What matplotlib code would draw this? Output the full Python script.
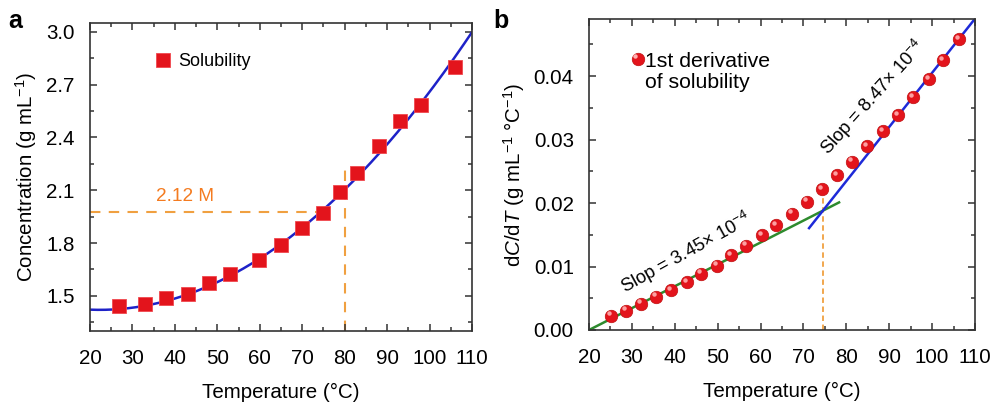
import numpy as np
import matplotlib
matplotlib.use("Agg")
import matplotlib.pyplot as plt
from matplotlib.ticker import MultipleLocator, FormatStrFormatter
import matplotlib.transforms as mtransforms

plt.rcParams['font.family'] = ['Liberation Sans', 'DejaVu Sans']
plt.rcParams['mathtext.fontset'] = 'custom'
plt.rcParams['mathtext.rm'] = 'Liberation Sans'
plt.rcParams['mathtext.it'] = 'Liberation Sans:italic'
plt.rcParams['mathtext.bf'] = 'Liberation Sans:bold'

# ---- Panel a data ----
sol_T = [26.8, 33.0, 37.8, 43.0, 48.0, 53.0, 59.9, 65.0, 70.0, 74.9, 78.9, 82.9, 88.0, 93.0, 97.9, 105.9]
sol_C = [1.443, 1.456, 1.485, 1.513, 1.570, 1.622, 1.703, 1.789, 1.884, 1.973, 2.087, 2.197, 2.354, 2.491, 2.582, 2.799]
# points
fit_T = [20, 30, 40, 50, 60, 70, 80, 90, 100, 110]
fit_C = [1.415, 1.435, 1.49, 1.585, 1.71, 1.88, 2.10, 2.36, 2.66, 3.00]
guide_C = 1.975
guide_T = 80
guide_T_end = 73.5
guide_C_top = 2.216
label_212 = "2.12 M"

# ---- Panel b data ----
der_T = [25.1, 28.6, 32.2, 35.7, 39.2, 42.9, 46.2, 49.8, 53.2, 56.7, 60.4, 63.7,
         67.4, 70.9, 74.4, 77.9, 81.4, 84.9, 88.6, 92.0, 95.6, 99.3, 102.6, 106.3]
der_V = [0.00221, 0.00305, 0.0041, 0.00526, 0.0063, 0.00753, 0.00884, 0.01016,
         0.01174, 0.01326, 0.01495, 0.01647, 0.01832, 0.02021, 0.02221, 0.02437,
         0.02647, 0.02895, 0.03132, 0.03384, 0.03668, 0.03947, 0.04253, 0.04579]
green_T = [20, 78.3]
green_V = [0.0, 0.0201]
blue_T = [71.3, 110]
blue_V = [0.01605, 0.04905]
cross_T = 74.5
cross_V_top = 0.0215

fig = plt.figure(figsize=(9.93, 4.05), dpi=100)
axa = fig.add_axes([0.0906, 0.1827, 0.3847, 0.7605])
axb = fig.add_axes([0.5932, 0.1852, 0.3887, 0.7680])

FS = 14.8
spine_c = '#333333'

def style(ax):
    for s in ax.spines.values():
        s.set_color(spine_c)
        s.set_linewidth(1.2)
    ax.tick_params(which='both', direction='in', top=True, right=True,
                   color=spine_c, labelsize=FS, width=1.1)
    ax.tick_params(which='major', length=5)
    ax.tick_params(which='minor', length=3)
    ax.tick_params(axis='x', which='both', pad=13)
    ax.tick_params(axis='y', which='both', pad=11)

# ---- Panel a ----
coef = np.polyfit(fit_T, fit_C, 2)
xs = np.linspace(20, 110, 300)
axa.plot(xs, np.polyval(coef, xs), color='#1E22C8', lw=1.8, zorder=2)
axa.plot([20, guide_T_end], [guide_C, guide_C], ls=(0, (5, 4)), color='#F0A040', lw=1.5, zorder=1)
axa.plot([guide_T, guide_T], [1.3, guide_C_top], ls=(0, (5, 4)), color='#F0A040', lw=1.5, zorder=1)
axa.plot(sol_T, sol_C, 's', ms=9.5, color='#E3141C', mec='#F0484E', mew=0.6, zorder=3,
         label='Solubility')
axa.text(42.5, 2.064, label_212, color='#F47B20', fontsize=13.7, ha='center', va='center')
axa.set_xlim(20, 110)
axa.set_ylim(1.30, 3.05)
axa.xaxis.set_major_locator(MultipleLocator(10))
axa.xaxis.set_minor_locator(MultipleLocator(5))
axa.yaxis.set_minor_locator(MultipleLocator(0.15))
axa.set_yticks([1.5, 1.8, 2.1, 2.4, 2.7, 3.0])
axa.set_xlabel('Temperature (°C)', fontsize=FS, labelpad=11)
axa.set_ylabel('Concentration (g mL$^{-1}$)', fontsize=FS, labelpad=5)
style(axa)
axa.legend(loc='center left', bbox_to_anchor=(0.145, 0.875), frameon=False,
           fontsize=13, handletextpad=0.3, handlelength=1.0, borderpad=0)
fig.text(0.008, 0.931, 'a', fontsize=18, fontweight='bold', va='baseline')

# ---- Panel b ----
axb.plot([cross_T, cross_T], [0, cross_V_top], ls=(0, (3, 2)), color='#F0A040', lw=1.3, zorder=1)
axb.plot(der_T, der_V, 'o', ms=9, color='#E3141C', mec='#C01010', mew=0.5, zorder=3)
hl = mtransforms.offset_copy(axb.transData, fig=fig, x=-1.5, y=1.8, units='points')
axb.plot(der_T, der_V, 'o', ms=3.2, color='#FFB0B0', mew=0, alpha=0.9, transform=hl, zorder=4)
axb.plot(green_T, green_V, color='#2E8B2E', lw=1.8, zorder=2)
axb.plot(blue_T, blue_V, color='#1E2AD8', lw=1.8, zorder=2)
axb.text(42.7, 0.0121, 'Slop = 3.45× 10$^{-4}$', rotation=29, fontsize=13.2,
         ha='center', va='center', rotation_mode='anchor')
axb.text(86.3, 0.0366, 'Slop = 8.47× 10$^{-4}$', rotation=48, fontsize=13.2,
         ha='center', va='center', rotation_mode='anchor')
# legend
leg_T, leg_V = 31.3, 0.0427
axb.plot([leg_T], [leg_V], 'o', ms=9, color='#E3141C', mec='#C01010', mew=0.5)
axb.plot([leg_T], [leg_V], 'o', ms=3.2, color='#FFB0B0', mew=0, transform=hl)
axb.text(33.0, leg_V, '1st derivative\nof solubility', fontsize=15.3, ha='left', va='top',
         linespacing=1.15,
         transform=mtransforms.offset_copy(axb.transData, fig=fig, x=0, y=5, units='points'))
axb.set_xlim(20, 110)
axb.set_ylim(0, 0.049)
axb.xaxis.set_major_locator(MultipleLocator(10))
axb.xaxis.set_minor_locator(MultipleLocator(5))
axb.yaxis.set_major_locator(MultipleLocator(0.01))
axb.yaxis.set_minor_locator(MultipleLocator(0.005))
axb.yaxis.set_major_formatter(FormatStrFormatter('%.2f'))
axb.set_xlabel('Temperature (°C)', fontsize=FS, labelpad=11)
axb.set_ylabel('d$\\it{C}$/d$\\it{T}$ (g mL$^{-1}$ °C$^{-1}$)', fontsize=FS, labelpad=5)
style(axb)
fig.text(0.4965, 0.931, 'b', fontsize=18, fontweight='bold', va='baseline')

fig.savefig('out.png', dpi=100)
